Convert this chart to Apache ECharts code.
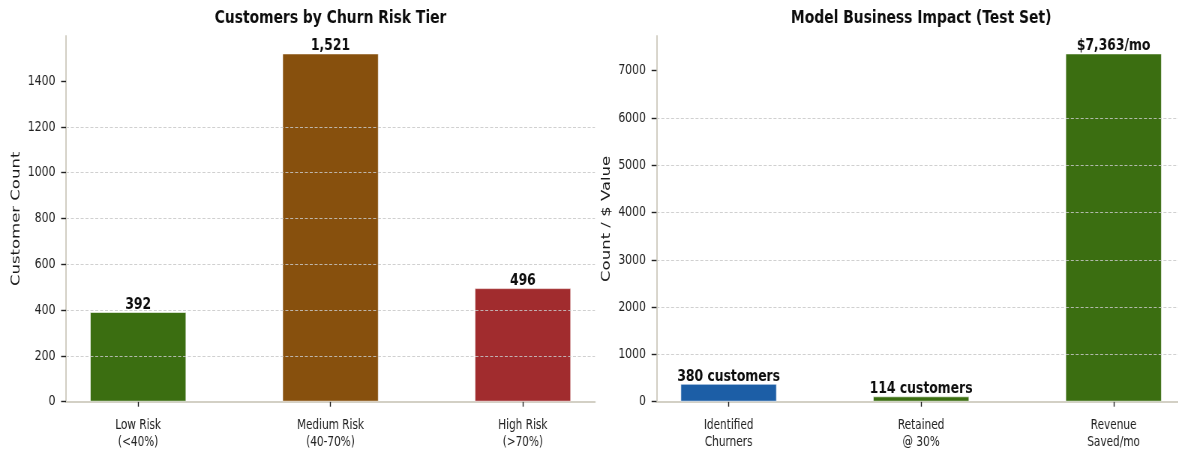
<!DOCTYPE html>
<html>
<head>
<meta charset="utf-8">
<script src="https://cdn.jsdelivr.net/npm/echarts@6/dist/echarts.min.js"></script>
<style>
  html, body { margin: 0; padding: 0; background: #ffffff; overflow: hidden; width: 1178px; height: 452px; }
  /* the figure is laid out wide and then compressed horizontally */
  #chart { width: 1571px; height: 452px; transform: scaleX(0.75); transform-origin: 0 0; }
</style>
</head>
<body>
<div id="chart"></div>
<script>
// ---- Left panel: customers per churn risk tier ----
const tierCategories = ['Low Risk\n(<40%)', 'Medium Risk\n(40-70%)', 'High Risk\n(>70%)'];
const tierCounts = [392, 1521, 496];
const tierColors = ['#3b6e11', '#87500d', '#a12c2e'];
const tierTicks = [0, 200, 400, 600, 800, 1000, 1200, 1400];

// ---- Right panel: business impact on the test set ----
const impactCategories = ['Identified\nChurners', 'Retained\n@ 30%', 'Revenue\nSaved/mo'];
const impactValues = [380, 114, 7363];
const impactColors = ['#1c5ea6', '#3b6e11', '#3b6e11'];
const impactLabelTemplates = ['{v} customers', '{v} customers', '${v}/mo'];
const impactTicks = [0, 1000, 2000, 3000, 4000, 5000, 6000, 7000];

const FONT = 'DejaVu Sans';
const fmt = v => v.toLocaleString('en-US');
const catPositions = cats => cats.map((_, i) => i);

function xAxisFor(gridIndex, cats) {
  const pos = catPositions(cats);
  return {
    type: 'value', gridIndex,
    min: -0.375, max: cats.length - 1 + 0.375,
    axisLine: { show: true, onZero: false, lineStyle: { color: '#d3d0c5', width: 2 } },
    axisTick: { show: true, customValues: pos, length: 5, lineStyle: { color: '#222', width: 1.4 } },
    axisLabel: {
      customValues: pos,
      formatter: v => cats[Math.round(v)] ?? '',
      fontFamily: FONT, fontSize: 14, color: '#222', lineHeight: 17, margin: 15
    },
    splitLine: { show: false }
  };
}

function yAxisFor(gridIndex, values, ticks, name) {
  return {
    type: 'value', gridIndex, z: 5,
    min: 0, max: Math.max(...values) * 1.05,
    name, nameLocation: 'middle', nameGap: 58,
    nameTextStyle: { fontFamily: FONT, fontSize: 16.5, color: '#1a1a1a' },
    axisLine: { show: true, onZero: false, lineStyle: { color: '#d3d0c5', width: 2 } },
    axisTick: { show: true, customValues: ticks, length: 6.5, lineStyle: { color: '#222', width: 1.4 } },
    axisLabel: { customValues: ticks, formatter: v => String(v),
      fontFamily: FONT, fontSize: 14.5, color: '#222', margin: 14 },
    splitLine: { show: true, showMaxLine: false, showMinLine: false,
      lineStyle: { color: 'rgba(200,200,200,0.85)', width: 1, type: [4, 2.5] } }
  };
}

function barSeries(idx, values, colors, labelFn) {
  return {
    type: 'bar', xAxisIndex: idx, yAxisIndex: idx,
    barWidth: 128.3, z: 2,
    data: values.map((v, i) => ({ value: [i, v], itemStyle: { color: colors[i] } })),
    itemStyle: { borderColor: 'rgba(255,255,255,0.6)', borderWidth: 1 },
    label: {
      show: true, position: 'top', distance: -1,
      fontFamily: FONT, fontSize: 16.5, fontWeight: 'bold', color: '#0d0d0d',
      formatter: p => labelFn(p.dataIndex)
    }
  };
}

const chart = echarts.init(document.getElementById('chart'), null, { renderer: 'canvas' });
chart.setOption({
  animation: false,
  backgroundColor: '#ffffff',
  title: [
    { text: 'Customers by Churn Risk Tier', left: 440.7, top: 9, textAlign: 'center', padding: 0,
      textStyle: { fontFamily: FONT, fontSize: 18.5, fontWeight: 'bold', color: '#0d0d0d' } },
    { text: 'Model Business Impact (Test Set)', left: 1228.2, top: 9, textAlign: 'center', padding: 0,
      textStyle: { fontFamily: FONT, fontSize: 18.5, fontWeight: 'bold', color: '#0d0d0d' } }
  ],
  grid: [
    { left: 88, right: 777.7, top: 36, bottom: 50.3, outerBoundsMode: 'none' },
    { left: 875.3, right: -10, top: 36, bottom: 50.3, outerBoundsMode: 'none' }
  ],
  xAxis: [xAxisFor(0, tierCategories), xAxisFor(1, impactCategories)],
  yAxis: [
    yAxisFor(0, tierCounts, tierTicks, 'Customer Count'),
    yAxisFor(1, impactValues, impactTicks, 'Count / $ Value')
  ],
  series: [
    barSeries(0, tierCounts, tierColors, i => fmt(tierCounts[i])),
    barSeries(1, impactValues, impactColors, i => impactLabelTemplates[i].replace('{v}', fmt(impactValues[i])))
  ]
});
</script>
</body>
</html>
